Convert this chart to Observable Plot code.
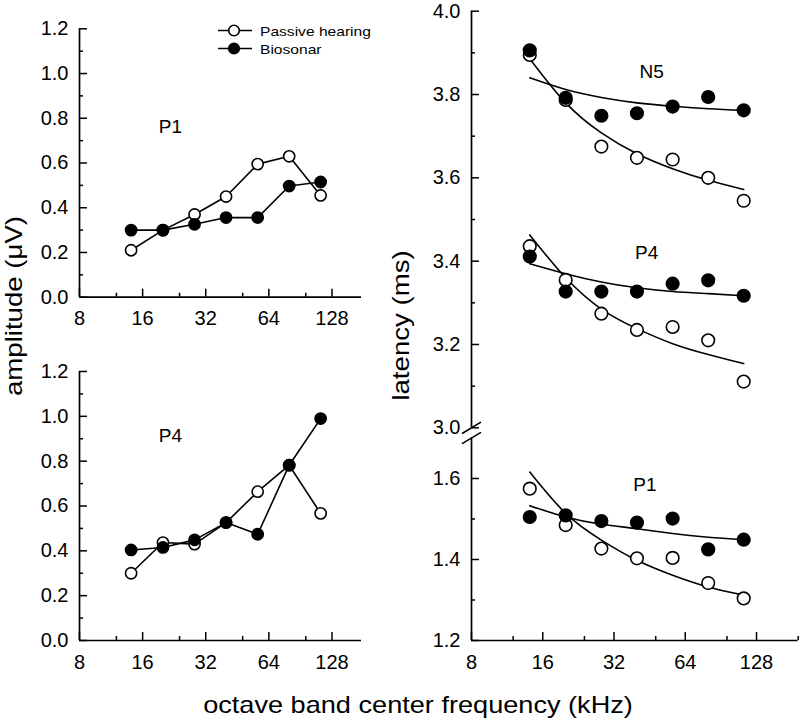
<!DOCTYPE html>
<html><head><meta charset="utf-8">
<script src="https://cdn.jsdelivr.net/npm/d3@7"></script>
<script src="https://cdn.jsdelivr.net/npm/@observablehq/plot@0.6"></script>
<style>
body{margin:0;background:#fff;}
#chart{position:relative;width:800px;height:719px;overflow:hidden;background:#fff;font-family:"Liberation Sans",Arial,sans-serif;}
#chart svg{position:absolute;left:0;top:0;}
</style></head><body><div id="chart"></div>
<script>
// ---- data ----
const freq = [14.1, 20, 28.3, 40, 56.6, 80, 113];           // octave band centre (kHz)
const ampP1Passive  = [0.21, 0.30, 0.37, 0.45, 0.595, 0.63, 0.455];
const ampP1Biosonar = [0.30, 0.30, 0.326, 0.356, 0.356, 0.497, 0.515];
const ampP4Passive  = [0.30, 0.437, 0.43, 0.526, 0.664, 0.782, 0.567];
const ampP4Biosonar = [0.404, 0.415, 0.449, 0.526, 0.474, 0.782, 0.99];
const latN5Passive  = [3.895, 3.787, 3.675, 3.648, 3.644, 3.60, 3.545];
const latN5Biosonar = [3.906, 3.792, 3.749, 3.755, 3.771, 3.794, 3.762];
const latP4Passive  = [3.436, 3.355, 3.274, 3.235, 3.242, 3.21, 3.111];
const latP4Biosonar = [3.411, 3.327, 3.327, 3.327, 3.346, 3.354, 3.317];
const latP1Passive  = [1.575, 1.485, 1.427, 1.403, 1.404, 1.342, 1.304];
const latP1Biosonar = [1.505, 1.509, 1.495, 1.491, 1.501, 1.425, 1.449];
// fitted curves at the same frequencies
const fitN5Passive  = [3.886, 3.780, 3.708, 3.658, 3.622, 3.594, 3.572];
const fitN5Biosonar = [3.840, 3.812, 3.793, 3.780, 3.772, 3.766, 3.762];
const fitP4Passive  = [3.463, 3.360, 3.285, 3.238, 3.202, 3.176, 3.154];
const fitP4Biosonar = [3.394, 3.370, 3.350, 3.336, 3.327, 3.322, 3.317];
const fitP1Passive  = [1.616, 1.514, 1.448, 1.398, 1.361, 1.332, 1.312];
const fitP1Biosonar = [1.533, 1.505, 1.487, 1.476, 1.464, 1.455, 1.449];
// ticks
const xMajor = [8, 16, 32, 64, 128];
const xMinorLeft = [12, 24, 48, 96];
const xMinorRight = [12, 24, 48, 96, 192];
const ampMajor = [0, 0.2, 0.4, 0.6, 0.8, 1.0, 1.2];
const ampMinor = [0.1, 0.3, 0.5, 0.7, 0.9, 1.1];
const latUpperMajor = [3.0, 3.2, 3.4, 3.6, 3.8, 4.0];
const latUpperMinor = [3.1, 3.3, 3.5, 3.7, 3.9];
const latLowerMajor = [1.2, 1.4, 1.6];
const latLowerMinor = [1.3, 1.5];
const seriesNames = ["Passive hearing", "Biosonar"];

// ---- drawing ----
const W = 800, H = 719;
const FONT = '"Liberation Sans", Arial, sans-serif';
const rows = ys => freq.map((f, i) => ({f, v: ys[i]}));
const slash = {draw(ctx, l) { ctx.moveTo(0, 0); ctx.lineTo(0, -l); }};

function panel(cfg) {
  const marks = [];
  marks.push(Plot.ruleX([cfg.xDomain[0]], {stroke: "black", strokeWidth: 1.7}));
  if (cfg.xAxis) marks.push(Plot.ruleY([cfg.yDomain[0]], {stroke: "black", strokeWidth: 1.7}));
  marks.push(Plot.axisY({ticks: cfg.yMajor, tickSize: -8, tickPadding: 19, tickFormat: d3.format(".1f"), fontSize: 20, strokeWidth: 1.5, label: null}));
  marks.push(Plot.axisY({ticks: cfg.yMinor, tickSize: -4, tickPadding: 10, tickFormat: () => "", strokeWidth: 1.5, label: null}));
  if (cfg.xAxis) {
    marks.push(Plot.axisX({ticks: xMajor, tickSize: -8, tickPadding: 22, tickFormat: d => String(d), fontSize: 20, strokeWidth: 1.5, label: null}));
    marks.push(Plot.axisX({ticks: cfg.xMinor, tickSize: -4, tickPadding: 10, tickFormat: () => "", strokeWidth: 1.5, label: null}));
  } else {
    marks.push(Plot.axisX({ticks: [], label: null}));
  }
  if (cfg.breakAt != null) {
    marks.push(Plot.vector([cfg.breakAt], {x: () => cfg.xDomain[0], y: d => d, length: 21, rotate: 59, anchor: "middle", shape: slash, stroke: "black", strokeWidth: 1.6}));
  }
  for (const s of cfg.lines || []) marks.push(Plot.line(rows(s), {x: "f", y: "v", stroke: "black", strokeWidth: 1.6}));
  for (const s of cfg.fits || []) marks.push(Plot.line(rows(s), {x: "f", y: "v", stroke: "black", strokeWidth: 1.6, curve: "natural"}));
  for (const [s, fill] of cfg.dots) marks.push(Plot.dot(rows(s), {x: "f", y: "v", r: cfg.r, fill, stroke: "black", strokeWidth: 1.6}));
  for (const t of cfg.labels || []) marks.push(Plot.text([t], {x: "x", y: "y", text: "t", fontSize: 19, fill: "black", textAnchor: "middle"}));
  return Plot.plot({
    width: W, height: H,
    marginLeft: cfg.left, marginRight: W - cfg.right, marginTop: cfg.top, marginBottom: H - cfg.bottom,
    x: {type: "log", base: 2, domain: cfg.xDomain},
    y: {domain: cfg.yDomain},
    style: {background: "transparent", overflow: "visible", fontFamily: FONT, color: "black", position: "absolute", left: "0px", top: "0px"},
    marks
  });
}

const chart = document.getElementById("chart");

chart.appendChild(panel({
  left: 79, right: 361, top: 28.3, bottom: 296.7, xDomain: [8, 177], yDomain: [0, 1.2],
  yMajor: ampMajor, yMinor: ampMinor, xAxis: true, xMinor: xMinorLeft, r: 5.6,
  lines: [ampP1Passive, ampP1Biosonar],
  dots: [[ampP1Passive, "white"], [ampP1Biosonar, "black"]],
  labels: [{x: 21.7, y: 0.76, t: "P1"}]
}));
chart.appendChild(panel({
  left: 79, right: 361, top: 371, bottom: 640, xDomain: [8, 177], yDomain: [0, 1.2],
  yMajor: ampMajor, yMinor: ampMinor, xAxis: true, xMinor: xMinorLeft, r: 5.6,
  lines: [ampP4Passive, ampP4Biosonar],
  dots: [[ampP4Passive, "white"], [ampP4Biosonar, "black"]],
  labels: [{x: 21.7, y: 0.913, t: "P4"}]
}));
chart.appendChild(panel({
  left: 471, right: 797.7, top: 10.7, bottom: 427.3, xDomain: [8, 192], yDomain: [3.0, 4.0],
  yMajor: latUpperMajor, yMinor: latUpperMinor, xAxis: false, r: 6.3, breakAt: 3.0,
  fits: [fitN5Passive, fitN5Biosonar, fitP4Passive, fitP4Biosonar],
  dots: [[latN5Passive, "white"], [latN5Biosonar, "black"], [latP4Passive, "white"], [latP4Biosonar, "black"]],
  labels: [{x: 46.2, y: 3.854, t: "N5"}, {x: 44, y: 3.421, t: "P4"}]
}));
chart.appendChild(panel({
  left: 471, right: 797.7, top: 437.5, bottom: 640, xDomain: [8, 192], yDomain: [1.2, 1.7],
  yMajor: latLowerMajor, yMinor: latLowerMinor, xAxis: true, xMinor: xMinorRight, r: 6.3, breakAt: 1.7,
  fits: [fitP1Passive, fitP1Biosonar],
  dots: [[latP1Passive, "white"], [latP1Biosonar, "black"]],
  labels: [{x: 43.2, y: 1.585, t: "P1"}]
}));

// titles and legend
const svg = d3.create("svg").attr("width", W).attr("height", H)
  .style("font-family", FONT).style("overflow", "visible");
svg.append("text").attr("transform", "translate(22,306) rotate(-90) scale(1.2,1)")
  .attr("text-anchor", "middle").attr("font-size", 23).text("amplitude (μV)");
svg.append("text").attr("transform", "translate(409,325.5) rotate(-90) scale(1.2,1)")
  .attr("text-anchor", "middle").attr("font-size", 23).text("latency (ms)");
svg.append("text").attr("transform", "translate(418,713) scale(1.18,1)")
  .attr("text-anchor", "middle").attr("font-size", 23).text("octave band center frequency (kHz)");
seriesNames.forEach((name, i) => {
  const y = 30.5 + i * 18;
  const g = svg.append("g");
  g.append("line").attr("x1", 218).attr("x2", 252).attr("y1", y).attr("y2", y).attr("stroke", "black").attr("stroke-width", 1.6);
  g.append("circle").attr("cx", 234).attr("cy", y).attr("r", 5.3).attr("fill", i === 0 ? "white" : "black").attr("stroke", "black").attr("stroke-width", 1.6);
  g.append("text").attr("transform", `translate(260,${y + 5}) scale(1.2,1)`).attr("font-size", 13).text(name);
});
chart.appendChild(svg.node());
</script></body></html>
